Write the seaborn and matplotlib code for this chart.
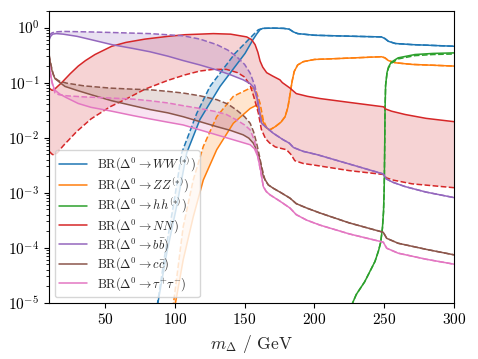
import numpy as np
import matplotlib
matplotlib.use("Agg")
import matplotlib.pyplot as plt
import seaborn as sns

# ---- data (m_Delta in GeV, log10 of branching ratio) ----
# WW
ww_solid_m = [86.5, 94.2, 101.3, 108.5, 118.0, 132.4, 150.3, 156.0, 158.6, 161.0]
ww_solid_log = [-5.2, -4.10, -3.25, -2.28, -1.67, -1.07, -0.47, -0.22, -0.12, -0.04]
ww_dashed_m = [86.5, 93.0, 98.9, 104.9, 115.7, 125.2, 143.1, 155.1, 159.8]
ww_dashed_log = [-5.2, -4.10, -3.25, -2.28, -1.56, -1.07, -0.47, -0.16, -0.04]
ww_tail_m = [163, 170, 178, 182, 185, 188, 200, 230, 248, 250.5, 253, 258, 270, 300]
ww_tail_log = [-0.015, -0.01, -0.015, -0.03, -0.08, -0.11, -0.14, -0.16, -0.17,
               -0.20, -0.25, -0.29, -0.31, -0.34]

# ZZ
zz_solid_m = [99.8, 106, 113.2, 120.4, 130, 141.9, 154, 158.6, 161, 164.6]
zz_solid_log = [-5.1, -4.22, -3.44, -2.77, -2.22, -1.74, -1.47, -1.41, -1.56, -1.80]
zz_dashed_m = [98.6, 106, 113.2, 120.4, 130, 141.9, 154, 157.5, 161, 163.4]
zz_dashed_log = [-5.1, -3.62, -2.77, -2.16, -1.62, -1.25, -1.10, -1.10, -1.37, -1.68]
zz_tail_m = [166, 168, 172, 176, 179, 181, 182.5, 184, 185.5, 188, 192, 200, 220,
             248, 250.5, 253, 258, 270, 300]
zz_tail_log = [-1.83, -1.86, -1.80, -1.72, -1.62, -1.45, -1.22, -0.98, -0.80, -0.68,
               -0.62, -0.58, -0.56, -0.53, -0.55, -0.60, -0.64, -0.67, -0.70]

# hh
hh_m = [224, 230, 236, 240, 243.4, 246, 247.5, 248.7, 249.5, 250, 250.3, 250.6,
        251, 252, 253, 255, 260, 272, 285, 300]
hh_solid_log = [-5.2, -4.85, -4.62, -4.42, -4.25, -4.05, -3.90, -3.65, -3.35, -2.92,
                -2.3, -1.5, -1.05, -0.82, -0.72, -0.63, -0.55, -0.49, -0.47, -0.46]
hh_dashed_log = [-5.2, -4.85, -4.62, -4.42, -4.25, -4.05, -3.90, -3.65, -3.35, -2.92,
                 -2.3, -1.5, -1.05, -0.83, -0.74, -0.65, -0.57, -0.51, -0.49, -0.48]

# NN
nn_solid_m = [10, 12, 13.5, 16, 19, 25, 30.8, 36, 42.8, 54.8, 65, 78.6, 95, 107.3,
              127.6, 140, 151.5, 155, 157.5, 159.5, 161.1, 163, 165.8, 170, 175.3,
              177, 182.5, 187, 195, 204, 225, 249.5, 251, 255.3, 265, 280, 300]
nn_solid_log = [-1.10, -1.14, -1.13, -1.07, -1.00, -0.84, -0.70, -0.60, -0.49, -0.34,
                -0.27, -0.21, -0.16, -0.13, -0.11, -0.12, -0.17, -0.22, -0.31, -0.45,
                -0.61, -0.72, -0.82, -0.88, -0.95, -1.00, -1.10, -1.20, -1.25, -1.29,
                -1.36, -1.44, -1.48, -1.52, -1.58, -1.65, -1.71]
nn_dashed_m = [10, 12, 13.5, 16, 20, 29.7, 40, 53.6, 65, 78.6, 95, 107.3, 118, 127.6,
               137, 145, 150, 154, 156.5, 159.8, 162, 165, 168, 172, 180, 183, 186,
               192, 200, 225, 249.5, 251.5, 256, 270, 300]
nn_dashed_log = [-2.25, -2.30, -2.32, -2.27, -2.15, -1.89, -1.66, -1.44, -1.30, -1.12,
                 -0.96, -0.86, -0.79, -0.76, -0.76, -0.82, -0.90, -1.05, -1.25, -1.55,
                 -1.85, -2.02, -2.10, -2.17, -2.22, -2.30, -2.42, -2.47, -2.50, -2.60,
                 -2.67, -2.73, -2.77, -2.84, -2.91]

# bb
bb_solid_m = [10, 11, 12.5, 15, 20, 30, 40, 54.8, 70, 82.2, 95, 106, 118, 130, 140,
              149, 154, 156.2, 158, 159.8, 161, 162.2]
bb_solid_log = [-0.22, -0.16, -0.12, -0.11, -0.12, -0.16, -0.22, -0.31, -0.38, -0.44,
                -0.52, -0.60, -0.68, -0.77, -0.86, -0.95, -1.02, -1.08, -1.20, -1.37,
                -1.58, -1.74]
bb_dashed_m = [10, 11.8, 14, 20, 40, 54.8, 82.2, 106, 118, 130, 138, 144.3, 150, 154,
               157.5, 159.8, 162.2]
bb_dashed_log = [-0.14, -0.10, -0.08, -0.07, -0.08, -0.09, -0.11, -0.15, -0.21, -0.31,
                 -0.41, -0.53, -0.67, -0.83, -1.07, -1.44, -1.74]
bb_tail_m = [165.8, 170.5, 177.7, 182, 185, 192, 202, 225, 249.3, 251.5, 256, 265,
             280, 300]
bb_tail_log = [-1.82, -1.92, -2.04, -2.10, -2.18, -2.25, -2.31, -2.48, -2.66, -2.75,
               -2.81, -2.89, -2.99, -3.09]

# cc
cc_solid_m = [10, 11, 12, 13, 14.2, 17.7, 21.3, 29.7, 40, 54.8, 70, 82.2, 95, 106,
              118, 130, 140, 149, 153, 156.2, 158.5, 161, 163.4]
cc_solid_log = [-0.53, -0.66, -0.78, -0.86, -0.93, -1.00, -1.07, -1.14, -1.22, -1.33,
                -1.42, -1.49, -1.55, -1.62, -1.71, -1.80, -1.87, -1.95, -2.01, -2.10,
                -2.22, -2.41, -2.71]
cc_dashed_m = [10, 11, 12, 13, 14.2, 17, 22.5, 35, 53.6, 70, 82.2, 95, 106, 118, 130,
               138, 144.3, 150, 154, 156.5, 158.6, 160.5, 162.2, 164.6]
cc_dashed_log = [-0.50, -0.64, -0.76, -0.85, -0.92, -0.97, -1.01, -1.06, -1.10, -1.12,
                 -1.13, -1.16, -1.19, -1.24, -1.31, -1.39, -1.50, -1.62, -1.74, -1.90,
                 -2.10, -2.32, -2.53, -2.77]
cc_tail_m = [167, 170.5, 176, 182.5, 187, 194.5, 204, 225, 249.3, 251.8, 260, 280, 300]
cc_tail_log = [-2.86, -2.92, -3.00, -3.10, -3.20, -3.28, -3.37, -3.55, -3.72, -3.83,
               -3.92, -4.03, -4.13]

# tau tau
tt_solid_m = [10, 11, 12, 13, 14.2, 17.7, 22, 30.8, 40, 54.8, 70, 82.2, 95, 106, 118,
              130, 142, 154, 157, 159.5, 161.5, 163.4]
tt_solid_log = [-0.68, -0.85, -0.98, -1.07, -1.14, -1.21, -1.27, -1.38, -1.45, -1.52,
                -1.60, -1.66, -1.72, -1.77, -1.86, -1.95, -2.04, -2.13, -2.20, -2.35,
                -2.60, -2.89]
tt_dashed_m = [10, 11, 12, 13, 14.2, 17, 22.5, 35, 53.6, 70, 82.2, 95, 106, 118, 130,
               137, 144.3, 150, 154, 157, 159.5, 161.5, 163.4]
tt_dashed_log = [-0.66, -0.85, -1.00, -1.10, -1.19, -1.22, -1.24, -1.26, -1.28, -1.30,
                 -1.33, -1.37, -1.42, -1.47, -1.53, -1.58, -1.68, -1.77, -1.86, -2.05,
                 -2.35, -2.62, -2.89]
tt_tail_m = [165.5, 168.2, 175, 182.5, 187, 194.5, 204, 225, 249.3, 251.8, 260, 280, 300]
tt_tail_log = [-2.98, -3.04, -3.15, -3.28, -3.40, -3.50, -3.59, -3.75, -3.90, -4.01,
               -4.10, -4.21, -4.30]

labels = [r"$\mathrm{BR}(\Delta^0 \to WW^{(*)})$",
          r"$\mathrm{BR}(\Delta^0 \to ZZ^{(*)})$",
          r"$\mathrm{BR}(\Delta^0 \to hh^{(*)})$",
          r"$\mathrm{BR}(\Delta^0 \to NN)$",
          r"$\mathrm{BR}(\Delta^0 \to b\bar{b})$",
          r"$\mathrm{BR}(\Delta^0 \to c\bar{c})$",
          r"$\mathrm{BR}(\Delta^0 \to \tau^{+}\tau^{-})$"]
colors = ["#1f77b4", "#ff7f0e", "#2ca02c", "#d62728", "#9467bd", "#8c564b", "#e377c2"]

channels = [
    (ww_solid_m + ww_tail_m, ww_solid_log + ww_tail_log,
     ww_dashed_m + ww_tail_m, ww_dashed_log + ww_tail_log),
    (zz_solid_m + zz_tail_m, zz_solid_log + zz_tail_log,
     zz_dashed_m + zz_tail_m, zz_dashed_log + zz_tail_log),
    (hh_m, hh_solid_log, hh_m, hh_dashed_log),
    (nn_solid_m, nn_solid_log, nn_dashed_m, nn_dashed_log),
    (bb_solid_m + bb_tail_m, bb_solid_log + bb_tail_log,
     bb_dashed_m + bb_tail_m, bb_dashed_log + bb_tail_log),
    (cc_solid_m + cc_tail_m, cc_solid_log + cc_tail_log,
     cc_dashed_m + cc_tail_m, cc_dashed_log + cc_tail_log),
    (tt_solid_m + tt_tail_m, tt_solid_log + tt_tail_log,
     tt_dashed_m + tt_tail_m, tt_dashed_log + tt_tail_log),
]

# ---- style ----
sns.set_style("ticks")
plt.rcParams["font.family"] = ["serif"]
plt.rcParams["font.serif"] = ["cmr10", "DejaVu Serif"]
plt.rcParams["mathtext.fontset"] = "cm"
plt.rcParams["axes.formatter.use_mathtext"] = True
plt.rcParams["axes.unicode_minus"] = False
plt.rcParams["axes.edgecolor"] = "black"
plt.rcParams["xtick.color"] = "black"
plt.rcParams["ytick.color"] = "black"

fig = plt.figure(figsize=(4.78, 3.59), dpi=100)
ax = fig.add_axes([0.1029, 0.1568, 0.8469, 0.8126])
ax.set_yscale("log")

handles = []
for (xs, ls, xd, ld), c, lab in zip(channels, colors, labels):
    ys = 10.0 ** np.array(ls)
    yd = 10.0 ** np.array(ld)
    sns.lineplot(x=xs, y=ys, ax=ax, color=c, lw=1.1, estimator=None, sort=False)
    handles.append(ax.lines[-1])
    handles[-1].set_label(lab)
    sns.lineplot(x=xd, y=yd, ax=ax, color=c, lw=1.1, linestyle="--",
                 estimator=None, sort=False)
    ax.fill(np.r_[xs, np.array(xd)[::-1]], np.r_[ys, yd[::-1]],
            color=c, alpha=0.2, lw=0)

ax.set_xlim(10, 300)
ax.set_ylim(1e-5, 2)
ax.set_xticks([50, 100, 150, 200, 250, 300])
ax.tick_params(axis="both", which="major", labelsize=11)
ax.set_xlabel(r"$m_\Delta$ / GeV", fontsize=12.5)
ax.set_ylabel("")
for s in ax.spines.values():
    s.set_visible(True)
    s.set_color("black")

ax.legend(handles=handles, loc="lower left", fontsize=9, framealpha=0.8,
          labelspacing=0.12, borderpad=0.35, handlelength=2.2,
          borderaxespad=0.45)

fig.savefig("out.png", dpi=100)
